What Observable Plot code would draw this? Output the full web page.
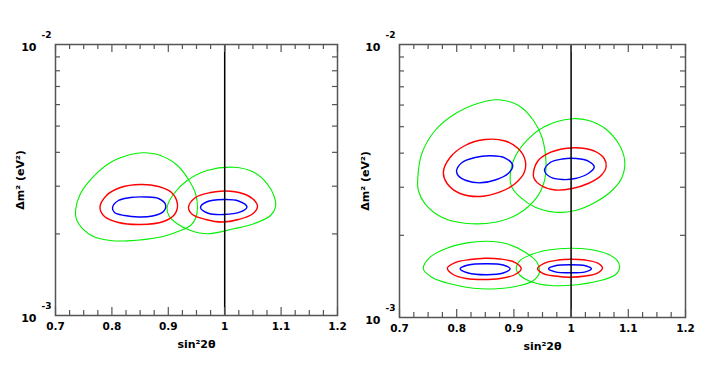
<!DOCTYPE html>
<html><head><meta charset="utf-8">
<script src="https://cdn.jsdelivr.net/npm/d3@7"></script>
<script src="https://cdn.jsdelivr.net/npm/@observablehq/plot@0.6"></script>
<style>
html,body{margin:0;padding:0;background:#fff;}
#wrap{position:relative;width:719px;height:374px;overflow:hidden;background:#fff;}
#wrap svg{position:absolute;top:0;}
</style></head><body><div id="wrap"></div>
<script>
// ---- axis ticks and labels ----
const xMajor = [0.7, 0.8, 0.9, 1, 1.1, 1.2];
const xMinor = [0.725,0.75,0.775,0.825,0.85,0.875,0.925,0.95,0.975,1.025,1.05,1.075,1.125,1.15,1.175];
const yMajor = [0.001, 0.01];
const yMajorExp = ["-3", "-2"];
const yMinor = [0.002,0.003,0.004,0.005,0.006,0.007,0.008,0.009];
const refLine = [1];
const xTitle = "sin²2θ";
const yTitle = "Δm² (eV²)";

// ---- left panel contours: [sin²2θ, Δm²] ----
const L_green1 = [[0.7355,0.002441],[0.7443,0.002820],[0.7656,0.003230],[0.7975,0.003670],[0.8330,0.003928],[0.8560,0.003985],[0.8862,0.003895],[0.9163,0.003578],[0.9358,0.003177],[0.9482,0.002820],[0.9518,0.002503],[0.9482,0.002280],[0.9394,0.002148],[0.9216,0.002059],[0.8862,0.001948],[0.8277,0.001886],[0.7975,0.001891],[0.7674,0.001957],[0.7479,0.002094],[0.7372,0.002261]];
const L_red1 = [[0.7789,0.002503],[0.7904,0.002772],[0.8152,0.002967],[0.8507,0.003044],[0.8826,0.002992],[0.9057,0.002843],[0.9163,0.002568],[0.9110,0.002358],[0.8915,0.002223],[0.8507,0.002167],[0.8117,0.002204],[0.7869,0.002319]];
const L_blue1 = [[0.8011,0.002503],[0.8117,0.002657],[0.8330,0.002725],[0.8596,0.002737],[0.8826,0.002702],[0.8950,0.002568],[0.8915,0.002420],[0.8720,0.002329],[0.8472,0.002309],[0.8223,0.002339],[0.8046,0.002399]];
const L_green2 = [[0.8980,0.002510],[0.9098,0.002813],[0.9335,0.003150],[0.9690,0.003427],[1.0161,0.003525],[1.0516,0.003378],[1.0754,0.003062],[1.0883,0.002732],[1.0901,0.002510],[1.0812,0.002339],[1.0516,0.002180],[1.0161,0.002089],[0.9690,0.002002],[0.9394,0.002059],[0.9158,0.002180],[0.9009,0.002339]];
const L_red2 = [[0.9358,0.002503],[0.9482,0.002725],[0.9748,0.002843],[1.0014,0.002880],[1.0316,0.002820],[1.0511,0.002679],[1.0582,0.002525],[1.0493,0.002369],[1.0245,0.002261],[0.9961,0.002213],[0.9660,0.002261],[0.9429,0.002358]];
const L_blue2 = [[0.9571,0.002503],[0.9677,0.002623],[0.9979,0.002679],[1.0245,0.002646],[1.0395,0.002514],[1.0280,0.002410],[0.9979,0.002358],[0.9695,0.002389]];

// ---- right panel contours ----
const R_green1 = [[0.7319,0.003222],[0.7389,0.003978],[0.7622,0.004842],[0.7972,0.005574],[0.8380,0.006095],[0.8730,0.006272],[0.9081,0.005978],[0.9343,0.005268],[0.9490,0.004575],[0.9560,0.003759],[0.9536,0.003176],[0.9403,0.002759],[0.9081,0.002398],[0.8673,0.002234],[0.8147,0.002215],[0.7739,0.002330],[0.7447,0.002609],[0.7329,0.002919]];
const R_red1 = [[0.7767,0.003406],[0.7884,0.003856],[0.8147,0.004266],[0.8497,0.004487],[0.8848,0.004431],[0.9075,0.004159],[0.9198,0.003759],[0.9180,0.003397],[0.9023,0.003096],[0.8760,0.002883],[0.8410,0.002775],[0.8060,0.002846],[0.7832,0.003096]];
const R_blue1 = [[0.7998,0.003455],[0.8095,0.003697],[0.8322,0.003856],[0.8585,0.003911],[0.8848,0.003839],[0.8979,0.003605],[0.8900,0.003369],[0.8673,0.003190],[0.8410,0.003114],[0.8165,0.003176],[0.8025,0.003313]];
const R_green2 = [[0.8935,0.003176],[0.8993,0.003759],[0.9198,0.004386],[0.9518,0.004979],[1.0016,0.005344],[1.0306,0.005267],[1.0599,0.004912],[1.0832,0.004327],[1.0937,0.003759],[1.0891,0.003265],[1.0716,0.002919],[1.0424,0.002645],[1.0074,0.002466],[0.9723,0.002431],[0.9373,0.002535],[0.9110,0.002759],[0.8965,0.003001]];
const R_red2 = [[0.9343,0.003406],[0.9426,0.003759],[0.9636,0.004022],[0.9895,0.004159],[1.0160,0.004177],[1.0420,0.004056],[1.0578,0.003823],[1.0613,0.003573],[1.0525,0.003313],[1.0298,0.003096],[1.0018,0.002968],[0.9720,0.002931],[0.9475,0.003045],[0.9353,0.003230]];
const R_blue2 = [[0.9536,0.003455],[0.9636,0.003697],[0.9846,0.003807],[1.0091,0.003823],[1.0300,0.003743],[1.0405,0.003558],[1.0300,0.003369],[1.0074,0.003230],[0.9846,0.003203],[0.9636,0.003271]];
const R_green3 = [[0.7417,0.001508],[0.7534,0.001663],[0.7827,0.001794],[0.8177,0.001877],[0.8527,0.001903],[0.8877,0.001862],[0.9198,0.001735],[0.9403,0.001594],[0.9448,0.001465],[0.9343,0.001366],[0.9110,0.001310],[0.8702,0.001274],[0.8292,0.001280],[0.7884,0.001329],[0.7564,0.001405]];
const R_red3 = [[0.7837,0.001518],[0.7972,0.001590],[0.8235,0.001631],[0.8497,0.001649],[0.8760,0.001638],[0.9023,0.001590],[0.9128,0.001512],[0.9023,0.001437],[0.8760,0.001390],[0.8462,0.001378],[0.8165,0.001390],[0.7937,0.001437]];
const R_blue3 = [[0.8060,0.001508],[0.8200,0.001557],[0.8527,0.001574],[0.8813,0.001557],[0.8935,0.001508],[0.8813,0.001455],[0.8527,0.001434],[0.8200,0.001455]];
const R_green4 = [[0.9040,0.001508],[0.9110,0.001618],[0.9343,0.001711],[0.9636,0.001770],[0.9986,0.001794],[1.0336,0.001775],[1.0629,0.001711],[1.0804,0.001618],[1.0849,0.001529],[1.0774,0.001434],[1.0511,0.001366],[1.0103,0.001318],[0.9636,0.001310],[0.9285,0.001355],[0.9110,0.001425]];
const R_red4 = [[0.9413,0.001508],[0.9548,0.001584],[0.9776,0.001624],[0.9986,0.001634],[1.0250,0.001624],[1.0460,0.001584],[1.0548,0.001518],[1.0460,0.001455],[1.0250,0.001419],[0.9986,0.001405],[0.9723,0.001419],[0.9513,0.001449]];
const R_blue4 = [[0.9606,0.001508],[0.9723,0.001547],[0.9986,0.001560],[1.0250,0.001547],[1.0355,0.001508],[1.0250,0.001470],[0.9986,0.001458],[0.9723,0.001470]];

const GREEN = "#00f000", RED = "#ff0000", BLUE = "#0000ff", FRAME = "#555555";
const FONT = "DejaVu Sans, Liberation Sans, sans-serif";

function panel(cfg) {
  const {width, left, mL, mR, mT, mB, contours, yTitleDx} = cfg;
  const H = 374;
  const fw = width - mL - mR, fh = H - mT - mB;
  const lineMarks = contours.map(([pts, color, sw]) =>
    Plot.line(pts, {x: d => d[0], y: d => d[1], stroke: color, strokeWidth: sw, curve: "catmull-rom-closed"}));
  const txt = {fontFamily: FONT, fontWeight: "bold", fill: "#000"};
  const svg = Plot.plot({
    width, height: H,
    marginLeft: mL, marginRight: mR, marginTop: mT, marginBottom: mB,
    style: {fontFamily: FONT, background: "transparent", overflow: "visible"},
    x: {domain: [0.7, 1.2], axis: null},
    y: {type: "log", domain: [0.001, 0.01], axis: null},
    marks: [
      ...lineMarks,
      Plot.ruleX(refLine, {x: d => d, stroke: "#000", strokeWidth: 1.5}),
      // inward ticks
      Plot.tickX(xMinor, {x: d => d, insetTop: fh - 5, stroke: FRAME, strokeWidth: 1.2}),
      Plot.tickX(xMajor, {x: d => d, insetTop: fh - 8, stroke: FRAME, strokeWidth: 1.2}),
      Plot.tickX(xMinor, {x: d => d, insetBottom: fh - 5, stroke: FRAME, strokeWidth: 1.2}),
      Plot.tickX(xMajor, {x: d => d, insetBottom: fh - 8, stroke: FRAME, strokeWidth: 1.2}),
      Plot.tickY(yMinor, {y: d => d, insetRight: fw - 5, stroke: FRAME, strokeWidth: 1.2}),
      Plot.tickY(yMinor, {y: d => d, insetLeft: fw - 5, stroke: FRAME, strokeWidth: 1.2}),
      Plot.frame({stroke: FRAME, strokeWidth: 1.5}),
      // x tick labels
      Plot.text(xMajor, {x: d => d, text: d => String(d), frameAnchor: "bottom", dy: 11, lineAnchor: "middle", fontSize: 10.5, ...txt}),
      // y tick labels: 10 with exponent
      Plot.text(yMajor, {y: d => d, text: () => "10", frameAnchor: "left", textAnchor: "end", dx: -19, dy: 3, lineAnchor: "middle", fontSize: 11, ...txt}),
      Plot.text(yMajor, {y: d => d, text: (d, i) => yMajorExp[i], frameAnchor: "left", textAnchor: "start", dx: -14, dy: -9.5, lineAnchor: "middle", fontSize: 9, ...txt}),
      // axis titles
      Plot.text([xTitle], {text: d => d, frameAnchor: "bottom", dy: 29, lineAnchor: "middle", fontSize: 11, ...txt}),
      Plot.text([yTitle], {text: d => d, frameAnchor: "left", dx: yTitleDx, rotate: -90, textAnchor: "middle", lineAnchor: "middle", fontSize: 11, ...txt})
    ]
  });
  svg.style.left = left + "px";
  document.getElementById("wrap").appendChild(svg);
}

panel({
  width: 360, left: 0, mL: 55, mR: 23, mT: 44, mB: 59, yTitleDx: -35,
  contours: [
    [L_green1, GREEN, 1.1], [L_green2, GREEN, 1.1],
    [L_red1, RED, 1.4], [L_red2, RED, 1.4],
    [L_blue1, BLUE, 1.4], [L_blue2, BLUE, 1.4]
  ]
});
panel({
  width: 364, left: 355, mL: 44, mR: 34, mT: 44, mB: 57, yTitleDx: -34,
  contours: [
    [R_green1, GREEN, 1.1], [R_green2, GREEN, 1.1], [R_green3, GREEN, 1.1], [R_green4, GREEN, 1.1],
    [R_red1, RED, 1.4], [R_red2, RED, 1.4], [R_red3, RED, 1.4], [R_red4, RED, 1.4],
    [R_blue1, BLUE, 1.4], [R_blue2, BLUE, 1.4], [R_blue3, BLUE, 1.4], [R_blue4, BLUE, 1.4]
  ]
});
</script>
</body></html>
